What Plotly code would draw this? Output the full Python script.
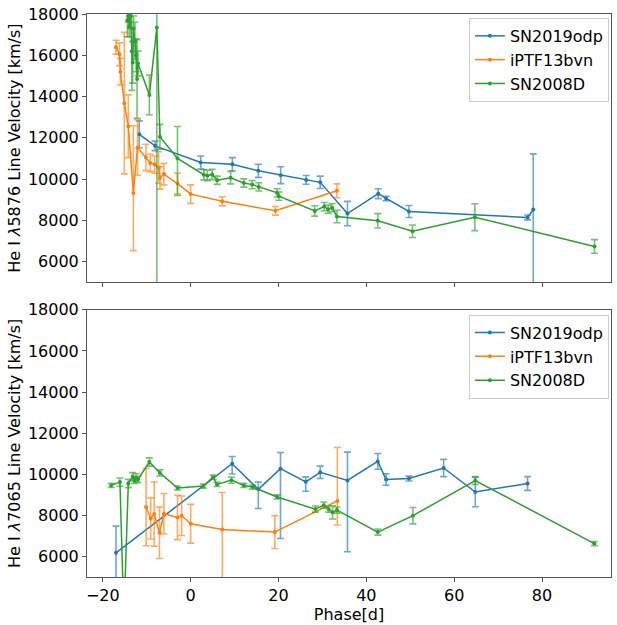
import plotly.graph_objects as go

# ---- He I 5876 line velocities ----
phase_odp_5876 = [-11.7, -8.1, 2.3, 9.5, 15.4, 20.5, 26.3, 29.5, 35.7, 42.7, 44.5, 49.7, 76.7, 78.0]
vel_odp_5876 = [12170, 11610, 10800, 10720, 10400, 10190, 9960, 9840, 8330, 9290, 9060, 8430, 8140, 8520]
errp_odp_5876 = [650, 230, 320, 320, 320, 410, 210, 300, 590, 240, 110, 290, 120, 2700]
errm_odp_5876 = [650, 230, 320, 320, 320, 410, 210, 300, 590, 240, 110, 290, 120, 4000]

phase_bvn_5876 = [-17.0, -16.2, -16.0, -15.1, -14.2, -13.05, -12.1, -10.2, -9.2, -8.2, -7.3, -7.0, -6.1, -3.0, 0.0, 7.2, 19.3, 33.3]
vel_bvn_5876 = [16390, 16050, 15200, 13680, 12560, 9330, 11530, 11050, 10780, 10700, 10560, 10050, 10240, 9780, 9270, 8920, 8460, 9430]
errp_bvn_5876 = [335, 550, 640, 3430, 1520, 3250, 1350, 640, 420, 420, 760, 540, 520, 500, 450, 220, 210, 335]
errm_bvn_5876 = [335, 550, 640, 3430, 1520, 2800, 1350, 640, 420, 420, 760, 540, 520, 500, 450, 220, 210, 335]

phase_08d_5876 = [-14.4, -14.2, -14.0, -13.7, -13.4, -13.2, -13.0, -12.7, -12.4, -12.2, -12.0, -9.4, -7.7, -7.0, -3.0,
                  3.0, 3.8, 4.9, 6.05, 9.1, 12.1, 14.0, 15.5, 19.7, 20.1, 28.25, 30.4, 31.3, 32.2, 33.3, 42.6, 50.5, 64.7, 91.95]
vel_08d_5876 = [17700, 18300, 17400, 17900, 16200, 15650, 17300, 16700, 16000, 14850, 15600, 14080, 17350, 12050, 11000,
                10210, 10175, 10220, 9940, 10065, 9810, 9730, 9620, 9330, 9170, 8455, 8665, 8535, 8615, 8185, 7975, 7470, 8150, 6735]
errp_08d_5876 = [800, 700, 500, 600, 1900, 1000, 600, 900, 800, 1900, 600, 960, 13000, 600, 1550,
                 250, 250, 250, 200, 300, 200, 200, 200, 200, 200, 250, 200, 200, 200, 300, 350, 300, 650, 330]
errm_08d_5876 = [800, 700, 500, 600, 1900, 1000, 600, 900, 800, 1900, 600, 960, 13000, 600, 1800,
                 250, 250, 250, 200, 300, 200, 200, 200, 200, 200, 250, 200, 200, 200, 300, 350, 300, 650, 330]

# ---- He I 7065 line velocities ----
phase_odp_7065 = [-17.0, 9.45, 15.4, 20.45, 26.2, 29.5, 35.7, 42.6, 44.5, 49.7, 57.6, 64.8, 76.7]
vel_odp_7065 = [6175, 10510, 9265, 10270, 9630, 10095, 9695, 10625, 9745, 9790, 10305, 9135, 9550]
errp_odp_7065 = [1300, 350, 350, 785, 240, 300, 1380, 380, 280, 120, 420, 720, 335]
errm_odp_7065 = [1300, 500, 930, 3400, 455, 300, 3470, 380, 280, 120, 420, 720, 335]

phase_bvn_7065 = [-10.15, -9.1, -8.3, -7.1, -6.1, -3.0, -2.05, 0.0, 7.2, 19.15, 33.4]
vel_bvn_7065 = [8400, 7850, 8060, 7150, 8080, 7900, 7980, 7590, 7310, 7185, 8700]
errp_bvn_7065 = [1880, 1000, 1560, 1250, 985, 1080, 960, 944, 1800, 800, 2600]
errm_bvn_7065 = [1880, 1000, 1560, 1250, 985, 1080, 960, 944, 2500, 800, 1170]

phase_08d_7065 = [-18.1, -16.1, -15.2, -14.2, -13.2, -12.8, -12.4, -12.0, -9.4, -7.0, -3.0, 2.9, 5.1, 6.0, 9.3, 12.1, 14.1,
                  19.7, 28.4, 30.3, 31.4, 32.3, 33.3, 42.6, 50.6, 64.8, 91.9]
vel_08d_7065 = [9456, 9616, 3000, 9550, 9880, 9700, 9820, 9750, 10594, 10064, 9330, 9424, 9856, 9504, 9712, 9456, 9375,
                8895, 8304, 8496, 8304, 8145, 8256, 7185, 7985, 9695, 6625]
err_08d_7065 = [100, 200, 400, 200, 200, 150, 200, 150, 200, 150, 100, 100, 100, 100, 150, 100, 100,
                100, 150, 150, 150, 320, 150, 150, 400, 190, 100]

names = ["SN2019odp", "iPTF13bvn", "SN2008D"]
colors = ["#1f77b4", "#ff7f0e", "#2ca02c"]
err_colors = ["rgba(31,119,180,0.65)", "rgba(255,127,14,0.65)", "rgba(44,160,44,0.65)"]
FONT = "DejaVu Sans"

fig = go.Figure()


def add_series(x, y, ep, em, i, xa, ya, legend):
    fig.add_trace(go.Scatter(
        x=x, y=y, mode="lines+markers", name=names[i],
        line=dict(color=colors[i], width=1.5),
        marker=dict(color=colors[i], size=4),
        error_y=dict(type="data", array=ep, arrayminus=em, symmetric=False,
                     color=err_colors[i], thickness=1.6, width=3.5),
        xaxis=xa, yaxis=ya, legend=legend,
    ))


add_series(phase_odp_5876, vel_odp_5876, errp_odp_5876, errm_odp_5876, 0, "x", "y", "legend")
add_series(phase_bvn_5876, vel_bvn_5876, errp_bvn_5876, errm_bvn_5876, 1, "x", "y", "legend")
add_series(phase_08d_5876, vel_08d_5876, errp_08d_5876, errm_08d_5876, 2, "x", "y", "legend")
add_series(phase_odp_7065, vel_odp_7065, errp_odp_7065, errm_odp_7065, 0, "x2", "y2", "legend2")
add_series(phase_bvn_7065, vel_bvn_7065, errp_bvn_7065, errm_bvn_7065, 1, "x2", "y2", "legend2")
add_series(phase_08d_7065, vel_08d_7065, err_08d_7065, err_08d_7065, 2, "x2", "y2", "legend2")

axis_common = dict(showline=True, mirror=True, linecolor="#555", linewidth=1,
                   ticks="outside", ticklen=4, tickcolor="#555", showgrid=False, zeroline=False,
                   tickfont=dict(family=FONT, size=16, color="black"))
xr = [-23.6, 95.7]
yr = [5000, 18000]
yt = [6000, 8000, 10000, 12000, 14000, 16000, 18000]

legend_style = dict(bgcolor="rgba(255,255,255,0.8)", bordercolor="#ccc", borderwidth=1,
                    font=dict(family=FONT, size=16, color="black"),
                    xanchor="right", yanchor="top", x=0.996, tracegroupgap=0, itemwidth=30)

fig.update_layout(
    width=617, height=625,
    margin=dict(l=87, r=5, t=8, b=46),
    paper_bgcolor="white", plot_bgcolor="white",
    font=dict(family=FONT, size=16, color="black"),
    xaxis=dict(domain=[0, 1], range=xr, anchor="y", showticklabels=False,
               tickvals=[-20, 0, 20, 40, 60, 80], **axis_common),
    yaxis=dict(domain=[0.5236, 1], range=yr, tickvals=yt, tickformat="d", anchor="x",
               title=dict(text="He I <i>λ</i>5876 Line Velocity [km/s]", standoff=3,
                          font=dict(family=FONT, size=16)),
               **axis_common),
    xaxis2=dict(domain=[0, 1], range=xr, anchor="y2", matches="x",
                tickvals=[-20, 0, 20, 40, 60, 80],
                title=dict(text="Phase[d]", standoff=4, font=dict(family=FONT, size=16)),
                **axis_common),
    yaxis2=dict(domain=[0, 0.4746], range=yr, tickvals=yt, tickformat="d", anchor="x2",
                title=dict(text="He I <i>λ</i>7065 Line Velocity [km/s]", standoff=3,
                           font=dict(family=FONT, size=16)),
                **axis_common),
    legend=dict(y=0.993, **legend_style),
    legend2=dict(y=0.466, **legend_style),
)

fig.write_html("out.html")
